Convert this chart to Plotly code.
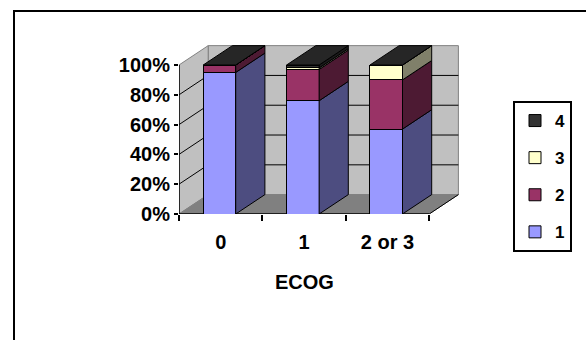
import plotly.graph_objects as go

# ---- data ----
categories = ["0", "1", "2 or 3"]
series_names = ["1", "2", "3", "4"]
s1 = [95, 76, 57]
s2 = [5, 21, 33]
s3 = [0, 1, 10]
s4 = [0, 2, 0]
y_tick_vals = [0, 20, 40, 60, 80, 100]
y_tick_text = ["0%", "20%", "40%", "60%", "80%", "100%"]
x_title = "ECOG"

series = [s1, s2, s3, s4]
front_colors = ["#9999FF", "#993366", "#FFFFCC", "#333333"]
side_colors = ["#4D4D80", "#4D1A33", "#80806A", "#1A1A1A"]
top_color = "#262626"

BAR_W = 0.39
BAR_OFF = -0.21
DX = 0.35   # depth in x units
DY = 13.0   # depth in y units

FONT = "Liberation Sans, Arial, sans-serif"

# layout geometry
W, H = 586, 340
ML, MR, MT, MB = 179, 124, 44, 126
PW, PH = W - ML - MR, H - MT - MB
X_RANGE = [-0.5, -0.5 + PW / 83.4]
Y_RANGE = [0, PH / 1.49]

fig = go.Figure()
xs = list(range(len(categories)))

n = len(series_names)
for k, (name, vals) in enumerate(zip(series_names, series)):
    fig.add_trace(go.Bar(
        x=xs, y=vals, name=name, width=BAR_W, offset=BAR_OFF,
        marker=dict(color=front_colors[k], line=dict(color="black", width=1)),
        legendgroup=name, legendrank=n - k, hoverinfo="skip"))

# side and top faces
for i in xs:
    base = 0
    x0 = i + BAR_OFF
    x1 = x0 + BAR_W
    for k, vals in enumerate(series):
        v = vals[i]
        fig.add_trace(go.Scatter(
            x=[x1, x1 + DX, x1 + DX, x1, x1],
            y=[base, base + DY, base + v + DY, base + v, base],
            mode="lines", fill="toself", fillcolor=side_colors[k],
            line=dict(color="black", width=1), showlegend=False, hoverinfo="skip"))
        base += v
    fig.add_trace(go.Scatter(
        x=[x0, x1, x1 + DX, x0 + DX, x0],
        y=[base, base, base + DY, base + DY, base],
        mode="lines", fill="toself", fillcolor=top_color,
        line=dict(color="black", width=1), showlegend=False, hoverinfo="skip"))

# walls / floor / gridlines
xl, xr = -0.5, len(categories) - 0.5
ymax = y_tick_vals[-1]
shapes = []
shapes.append(dict(type="rect", xref="x", yref="y", x0=xl + DX, x1=xr + DX, y0=DY, y1=ymax + DY,
                   fillcolor="#C0C0C0", line=dict(color="#808080", width=1), layer="below"))
shapes.append(dict(type="path", xref="x", yref="y",
                   path=f"M {xl},0 L {xl},{ymax} L {xl+DX},{ymax+DY} L {xl+DX},{DY} Z",
                   fillcolor="#C0C0C0", line=dict(color="#808080", width=1), layer="below"))
shapes.append(dict(type="path", xref="x", yref="y",
                   path=f"M {xl},0 L {xr},0 L {xr+DX},{DY} L {xl+DX},{DY} Z",
                   fillcolor="#808080", line=dict(color="#808080", width=1), layer="below"))
for v in y_tick_vals[1:-1]:
    shapes.append(dict(type="line", xref="x", yref="y", x0=xl + DX, x1=xr + DX, y0=v + DY, y1=v + DY,
                       line=dict(color="black", width=1), layer="below"))
    shapes.append(dict(type="line", xref="x", yref="y", x0=xl, x1=xl + DX, y0=v, y1=v + DY,
                       line=dict(color="black", width=1), layer="below"))
shapes.append(dict(type="line", xref="x", yref="y", x0=xr, x1=xr + DX, y0=0, y1=DY,
                   line=dict(color="black", width=1), layer="below"))
shapes.append(dict(type="line", xref="x", yref="y", x0=xl, x1=xr, y0=0, y1=0,
                   line=dict(color="black", width=1.5), layer="below"))
shapes.append(dict(type="line", xref="x", yref="y", x0=xl, x1=xl, y0=0, y1=ymax,
                   line=dict(color="black", width=1.5), layer="below"))
# outer frame
shapes.append(dict(type="rect", xref="paper", yref="paper",
                   x0=(14 - ML) / PW, x1=(W + 20 - ML) / PW,
                   y0=-(H + 20 - MT - PH) / PH, y1=(MT + PH - 11) / PH,
                   line=dict(color="black", width=2), fillcolor="rgba(0,0,0,0)", layer="below"))

fig.update_layout(
    width=W, height=H,
    margin=dict(l=ML, r=MR, t=MT, b=MB),
    paper_bgcolor="white", plot_bgcolor="white",
    barmode="stack",
    shapes=shapes,
    showlegend=True,
    legend=dict(x=(513 - ML) / PW, y=(MT + PH - 101) / PH, xanchor="left", yanchor="top",
                traceorder="grouped", tracegroupgap=12,
                bordercolor="black", borderwidth=2, bgcolor="white",
                font=dict(family=FONT, size=17, color="black", weight="bold")),
    xaxis=dict(range=X_RANGE, tickvals=xs, ticktext=categories, ticks="outside",
               ticklen=10, tickcolor="rgba(0,0,0,0)", showgrid=False, zeroline=False,
               showline=False, fixedrange=True,
               tickfont=dict(family=FONT, size=20, color="black", weight="bold"),
               minor=dict(tickvals=[xl + j for j in range(len(categories) + 1)],
                          ticks="outside", ticklen=6, tickcolor="black", tickwidth=1.5,
                          showgrid=False)),
    yaxis=dict(range=Y_RANGE, tickvals=y_tick_vals, ticktext=y_tick_text, ticks="outside",
               ticklen=4, tickcolor="black", tickwidth=1.5, showgrid=False, zeroline=False,
               showline=False, fixedrange=True,
               tickfont=dict(family=FONT, size=20, color="black", weight="bold")),
    annotations=[dict(text=x_title, xref="x", yref="paper", x=1, y=-(282 - MT - PH) / PH,
                      xanchor="center", yanchor="middle", showarrow=False,
                      font=dict(family=FONT, size=20, color="black", weight="bold"))],
)

fig.write_html("out.html")
